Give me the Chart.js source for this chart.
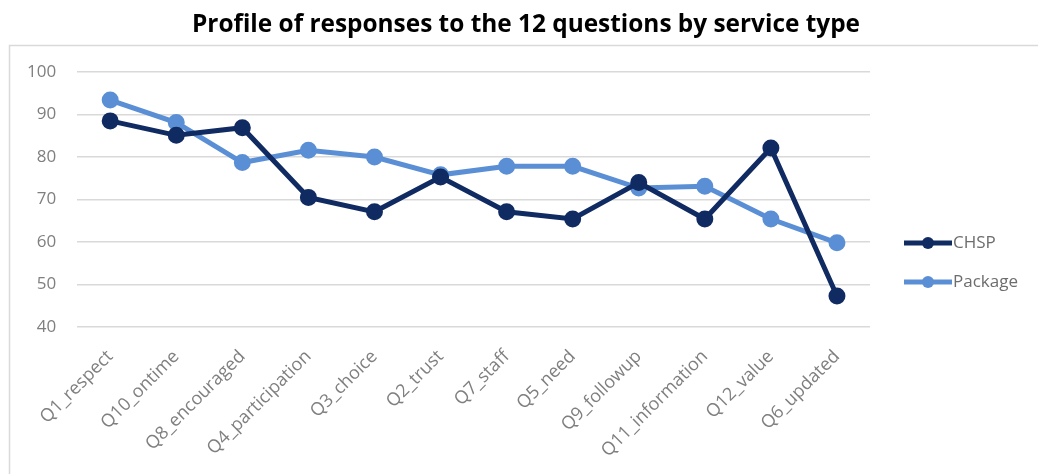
<!DOCTYPE html>
<html>
<head>
<meta charset="utf-8">
<script src="https://cdn.jsdelivr.net/npm/chart.js@4.4.1/dist/chart.umd.min.js"></script>
<style>
html,body{margin:0;padding:0;background:#fff;}
#wrap{width:1038px;height:474px;position:relative;}
</style>
</head>
<body>
<div id="wrap"><canvas id="c" width="1038" height="474"></canvas></div>
<script>
const titleText = 'Profile of responses to the 12 questions by service type';
const categories = ['Q1_respect','Q10_ontime','Q8_encouraged','Q4_participation','Q3_choice','Q2_trust','Q7_staff','Q5_need','Q9_followup','Q11_information','Q12_value','Q6_updated'];
const chspValues = [88.5, 85.1, 86.9, 70.5, 67.1, 75.3, 67.1, 65.4, 74.0, 65.4, 82.1, 47.3];
const packageValues = [93.4, 88.1, 78.7, 81.6, 80.0, 75.8, 77.8, 77.8, 72.7, 73.1, 65.4, 59.8];
const seriesNames = ['CHSP','Package'];
const yTicks = [40, 50, 60, 70, 80, 90, 100];

const colors = ['#102a62', '#5b8fd5'];
const FONT = '"Open Sans", sans-serif';

const decor = {
  id: 'decor',
  beforeDraw(chart) {
    const ctx = chart.ctx;
    ctx.save();
    ctx.strokeStyle = '#d9d9d9';
    ctx.lineWidth = 1.5;
    ctx.strokeRect(9.5, 45.5, 1100, 500);
    ctx.restore();
  },
  afterDraw(chart) {
    const ctx = chart.ctx;
    ctx.save();
    ctx.fillStyle = '#000';
    ctx.font = 'bold 24.4px ' + FONT;
    ctx.textAlign = 'center';
    ctx.textBaseline = 'middle';
    ctx.fillText(titleText, 526, 25);
    // legend
    const ys = [243, 282];
    chart.data.datasets.forEach((ds, i) => {
      const y = ys[i];
      ctx.strokeStyle = ds.borderColor;
      ctx.lineWidth = 5;
      ctx.beginPath();
      ctx.moveTo(904, y);
      ctx.lineTo(952, y);
      ctx.stroke();
      ctx.fillStyle = ds.borderColor;
      ctx.beginPath();
      ctx.arc(928, y, 6, 0, Math.PI * 2);
      ctx.fill();
      ctx.fillStyle = '#6d6d6d';
      ctx.font = '17px ' + FONT;
      ctx.textAlign = 'left';
      ctx.fillText(ds.label, 953, y);
    });
    ctx.restore();
  }
};

new Chart(document.getElementById('c'), {
  type: 'line',
  data: {
    labels: categories,
    datasets: [
      { label: seriesNames[0], data: chspValues, borderColor: colors[0], backgroundColor: colors[0], borderWidth: 5, pointRadius: 6, pointHoverRadius: 6, tension: 0 },
      { label: seriesNames[1], data: packageValues, borderColor: colors[1], backgroundColor: colors[1], borderWidth: 5, pointRadius: 6, pointHoverRadius: 6, tension: 0 }
    ]
  },
  options: {
    responsive: false,
    animation: false,
    events: [],
    layout: { padding: { left: 6, right: 168, top: 72, bottom: 19 } },
    plugins: { legend: { display: false }, title: { display: false }, tooltip: { enabled: false } },
    scales: {
      x: {
        offset: true,
        grid: { display: false, drawTicks: false },
        border: { display: false },
        afterFit(axis) { axis.height = 128; },
        ticks: { color: '#7f7f7f', font: { family: FONT, size: 18 }, minRotation: 45, maxRotation: 45, padding: 19, autoSkip: false }
      },
      y: {
        min: 40, max: 100,
        afterBuildTicks(axis) { axis.ticks = yTicks.map(v => ({ value: v })); },
        grid: { color: '#d9d9d9', lineWidth: 1.5, drawTicks: false },
        border: { display: false },
        ticks: { color: '#7f7f7f', font: { family: FONT, size: 17 }, padding: 21 }
      }
    }
  },
  plugins: [decor]
});
</script>
</body>
</html>
